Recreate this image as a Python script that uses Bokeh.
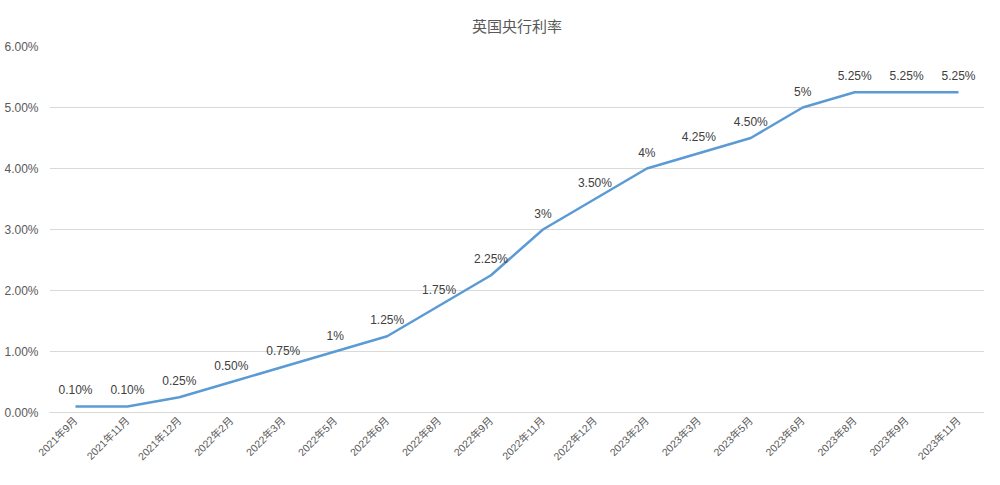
from bokeh.plotting import figure
from bokeh.models import ColumnDataSource, NumeralTickFormatter, Title, LabelSet
from bokeh.core.properties import value
from bokeh.embed import file_html
from bokeh.resources import INLINE
import math

months = ["2021年9月", "2021年11月", "2021年12月", "2022年2月", "2022年3月", "2022年5月",
          "2022年6月", "2022年8月", "2022年9月", "2022年11月", "2022年12月", "2023年2月",
          "2023年3月", "2023年5月", "2023年6月", "2023年8月", "2023年9月", "2023年11月"]
rates = [0.10, 0.10, 0.25, 0.50, 0.75, 1.00, 1.25, 1.75, 2.25, 3.00, 3.50, 4.00,
         4.25, 4.50, 5.00, 5.25, 5.25, 5.25]
rate_labels = ["0.10%", "0.10%", "0.25%", "0.50%", "0.75%", "1%", "1.25%", "1.75%", "2.25%",
               "3%", "3.50%", "4%", "4.25%", "4.50%", "5%", "5.25%", "5.25%", "5.25%"]
y_ticks = [0, 1, 2, 3, 4, 5, 6]

FONT = "Helvetica, Liberation Sans, Noto Sans CJK SC"

src = ColumnDataSource(dict(x=months, y=[r / 100 for r in rates], lab=rate_labels))

p = figure(x_range=months, y_range=(0, 0.06), width=984, height=469,
           output_backend="svg", toolbar_location=None,
           min_border_left=49, min_border_right=0, min_border_top=46, min_border_bottom=53)
p.title = Title(text="英国央行利率", align="center", text_font=FONT, text_font_size="15px",
                text_color="#595959", text_font_style="normal", offset=0, standoff=20,
                vertical_align="top")
p.outline_line_color = None
p.background_fill_color = "white"
p.border_fill_color = "white"

p.line("x", "y", source=src, line_color="#5b9bd5", line_width=2.5)
labels = LabelSet(x="x", y="y", text="lab", source=src, text_align="center",
                  text_baseline="bottom", y_offset=9, text_font_size="12px",
                  text_color="#404040", text_font=value(FONT))
p.add_layout(labels)

p.yaxis.ticker = [t / 100 for t in y_ticks]
p.yaxis.formatter = NumeralTickFormatter(format="0.00%")
p.yaxis.axis_line_color = None
p.yaxis.major_tick_line_color = None
p.yaxis.minor_tick_line_color = None
p.yaxis.major_label_text_color = "#595959"
p.yaxis.major_label_text_font = FONT
p.yaxis.major_label_text_font_size = "12px"
p.yaxis.major_label_standoff = 5

p.xaxis.axis_line_color = "#d9d9d9"
p.xaxis.major_tick_line_color = None
p.xaxis.minor_tick_line_color = None
p.xaxis.major_label_orientation = math.pi / 4
p.xaxis.major_label_text_color = "#595959"
p.xaxis.major_label_text_font = FONT
p.xaxis.major_label_text_font_size = "10.5px"
p.xaxis.major_label_standoff = 0

p.xgrid.grid_line_color = None
p.ygrid.grid_line_color = "#d9d9d9"
p.ygrid.grid_line_width = 1

open("out.html", "w").write(file_html(p, INLINE))
